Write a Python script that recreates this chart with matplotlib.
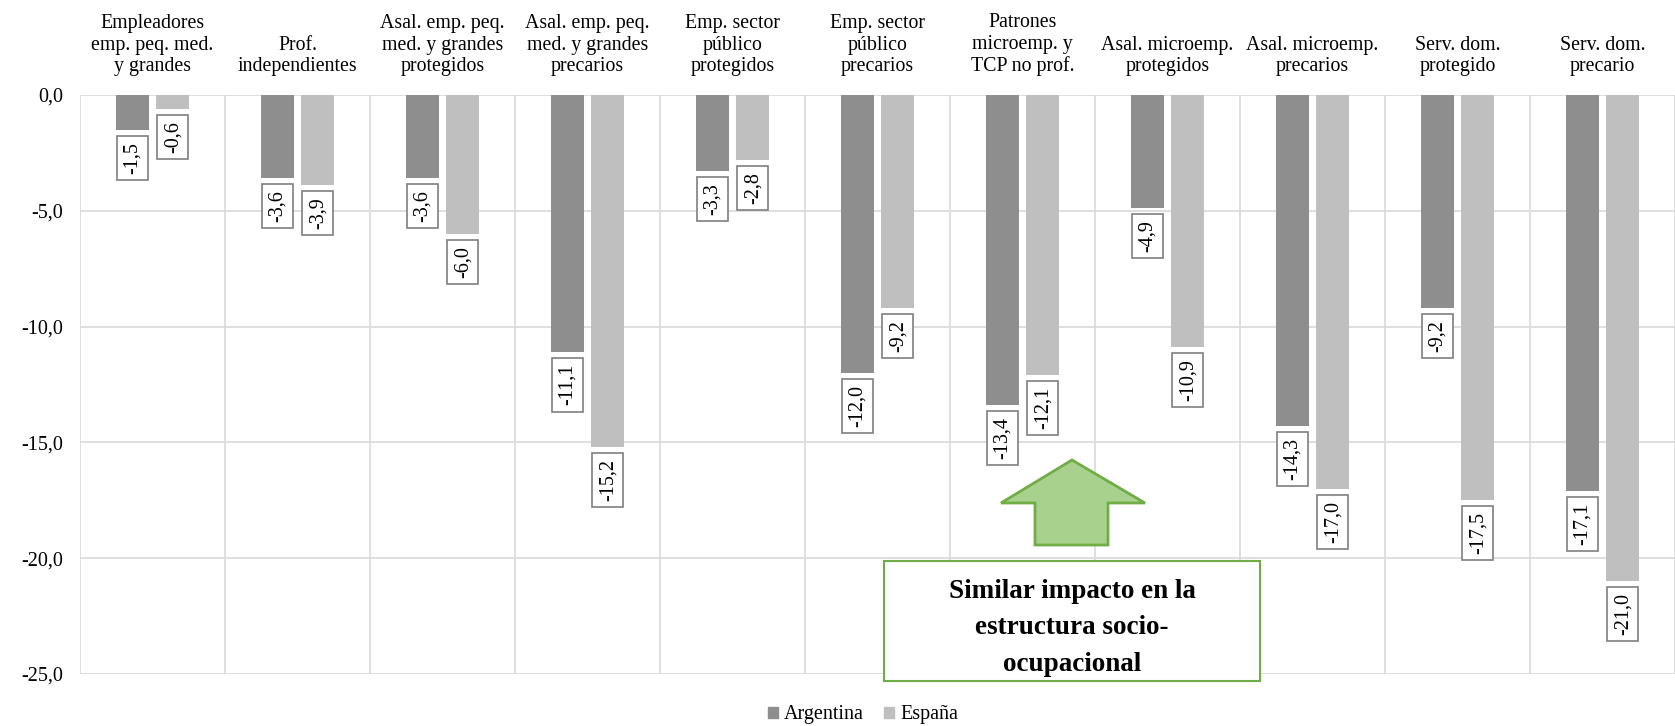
import matplotlib
matplotlib.use("Agg")
import matplotlib.pyplot as plt
import numpy as np
from matplotlib.patches import Polygon, Rectangle, Patch

categories = [
    "Empleadores\nemp. peq. med.\ny grandes",
    "Prof.\nindependientes",
    "Asal. emp. peq.\nmed. y grandes\nprotegidos",
    "Asal. emp. peq.\nmed. y grandes\nprecarios",
    "Emp. sector\npúblico\nprotegidos",
    "Emp. sector\npúblico\nprecarios",
    "Patrones\nmicroemp. y\nTCP no prof.",
    "Asal. microemp.\nprotegidos",
    "Asal. microemp.\nprecarios",
    "Serv. dom.\nprotegido",
    "Serv. dom.\nprecario",
]
argentina = [-1.5, -3.6, -3.6, -11.1, -3.3, -12.0, -13.4, -4.9, -14.3, -9.2, -17.1]
espana = [-0.6, -3.9, -6.0, -15.2, -2.8, -9.2, -12.1, -10.9, -17.0, -17.5, -21.0]
series_names = ["Argentina", "España"]
yticks = [0, -5, -10, -15, -20, -25]
note_text = "Similar impacto en la\nestructura socio-\nocupacional"

W, H = 1675, 726
plt.rcParams["font.family"] = ["Liberation Serif", "DejaVu Serif"]
fig = plt.figure(figsize=(W / 100, H / 100), dpi=100)

left_px, right_px, top_px, bot_px = 80, 1675, 95, 674
ax = fig.add_axes([left_px / W, 1 - bot_px / H, (right_px - left_px) / W, (bot_px - top_px) / H])

c_arg = "#8e8e8e"
c_esp = "#bfbfbf"
x = np.arange(len(categories))
bw = 0.23
off = 0.14
b1 = ax.bar(x - off, argentina, bw, color=c_arg, zorder=3)
b2 = ax.bar(x + off, espana, bw, color=c_esp, zorder=3)

cat_px = 146.35
ax.set_xlim(-0.5, -0.5 + (right_px - left_px) / cat_px)
ax.set_ylim(-25, 0)

lab_fs = 14.5
lab_pad = 0.3
for bars, vals in ((b1, argentina), (b2, espana)):
    for rect, v in zip(bars, vals):
        lab = f"{v:.1f}".replace(".", ",")
        ax.annotate(lab, (rect.get_x() + rect.get_width() / 2, v),
                    xytext=(0, -(4.3 + lab_pad * lab_fs)), textcoords="offset points",
                    rotation=90, ha="center", va="top", fontsize=lab_fs,
                    bbox=dict(boxstyle=f"square,pad={lab_pad}", fc="white", ec="#7f7f7f", lw=1.2),
                    zorder=5)

ax.set_yticks(yticks)
ax.set_yticklabels([f"{t:.1f}".replace(".", ",") for t in yticks], fontsize=14.5)
ax.tick_params(axis="y", length=0, pad=12)

ax.xaxis.tick_top()
ax.set_xticks(x)
ax.set_xticklabels(categories, fontsize=14.3, linespacing=1.17)
ax.tick_params(axis="x", which="major", length=0, pad=13.5)
ax.set_xticks(np.arange(-0.5, len(categories), 1.0), minor=True)
ax.tick_params(axis="x", which="minor", length=0)
ax.grid(axis="x", which="minor", color="#d9d9d9", lw=1.2, zorder=0)
ax.grid(axis="y", which="major", color="#d9d9d9", lw=1.2, zorder=0)
ax.grid(axis="x", which="major", visible=False)
for s in ax.spines.values():
    s.set_visible(False)

# green block arrow (figure pixel coordinates)
def fp(px, py):
    return (px / W, 1 - py / H)

arrow_pts = [fp(1072, 460), fp(1145, 503), fp(1108, 503), fp(1108, 545),
             fp(1035, 545), fp(1035, 503), fp(1001, 503)]
fig.patches.append(Polygon(arrow_pts, closed=True, transform=fig.transFigure,
                           fc="#a9d18e", ec="#70ad47", lw=2, zorder=10))

bx0, by0, bx1, by1 = 884, 561, 1260, 681
fig.patches.append(Rectangle(fp(bx0, by1), (bx1 - bx0) / W, (by1 - by0) / H,
                             transform=fig.transFigure, fc="white", ec="#70ad47",
                             lw=1.5, zorder=10))
fig.text((bx0 + bx1) / 2 / W, 1 - ((by0 + by1) / 2 + 7) / H, note_text,
         ha="center", va="center", fontsize=19.5, fontweight="bold",
         linespacing=1.62, zorder=11)

handles = [Patch(color=c_arg), Patch(color=c_esp)]
fig.legend(handles, series_names, loc="center", bbox_to_anchor=(863 / W, 1 - 715 / H),
           ncol=2, frameon=False, fontsize=14.5, handlelength=0.5, handleheight=0.5,
           handletextpad=0.3, columnspacing=1.0, borderaxespad=0, borderpad=0)

fig.savefig("out.png", dpi=100)
